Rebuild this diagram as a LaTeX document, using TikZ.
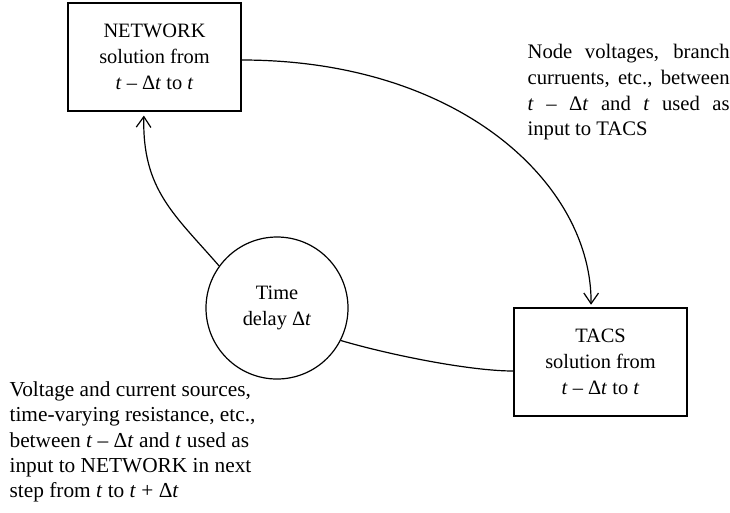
\documentclass[tikz,border=0pt]{standalone}
\usepackage{fontspec}
\setmainfont{Liberation Serif}
\usetikzlibrary{arrows.meta}
\newcommand{\tvar}{\textit{t}}
\newlength{\notewidth}
\setlength{\notewidth}{151.5pt}
\newcommand{\fullline}[1]{\makebox[\notewidth][s]{#1}}
\begin{document}
\begin{tikzpicture}[x=0.75pt,y=-0.75pt,line width=0.9pt,
  every node/.style={font=\fontsize{15.3}{19.3}\selectfont},
  block/.style={draw,minimum width=129.75pt,minimum height=81pt,align=center,inner sep=0pt},
  delaynode/.style={draw,circle,minimum size=106.5pt,align=center,inner sep=0pt},
  note/.style={inner sep=0pt,anchor=north west},
  flow/.style={-{Straight Barb[length=8pt,width=11pt]}}]
\useasboundingbox (0,0) rectangle (730,512);

% blocks
\node[block] (net) at (154.5,57) {NETWORK\\solution from\\\tvar{} – Δ\tvar{} to \tvar};
\node[block] (tacs) at (600.5,362) {TACS\\solution from\\\tvar{} – Δ\tvar{} to \tvar};
\node[delaynode] (delay) at (277,308) {Time\\delay Δ\tvar};

% annotations
\node[note,align=left,font=\fontsize{15.5}{19.35}\selectfont] (outnote) at (527,43.5) {%
  \fullline{Node voltages, branch}\\
  \fullline{curruents, etc., between}\\
  \fullline{\tvar{} – Δ\tvar{} and \tvar{} used as}\\
  input to TACS};
\node[note,align=left,font=\fontsize{16}{19}\selectfont] (innote) at (9,381) {Voltage and current sources,\\
  time-varying resistance, etc.,\\
  between \tvar{} – Δ\tvar{} and \tvar{} used as\\
  input to NETWORK in next\\
  step from \tvar{} to \tvar{} + Δ\tvar};

% connectors
\draw[flow,shorten >=2pt] ([yshift=-2.25pt]net.east) .. controls (461,60) and (592,185) .. ([xshift=-7.1pt]tacs.north);
\draw[flow,shorten >=3pt] (delay.144) .. controls (175,215) and (142,190) .. ([xshift=-7.9pt]net.south);
\draw (delay.-27) .. controls (390,355) and (470,371) .. ([yshift=-6.75pt]tacs.west);
\end{tikzpicture}
\end{document}
